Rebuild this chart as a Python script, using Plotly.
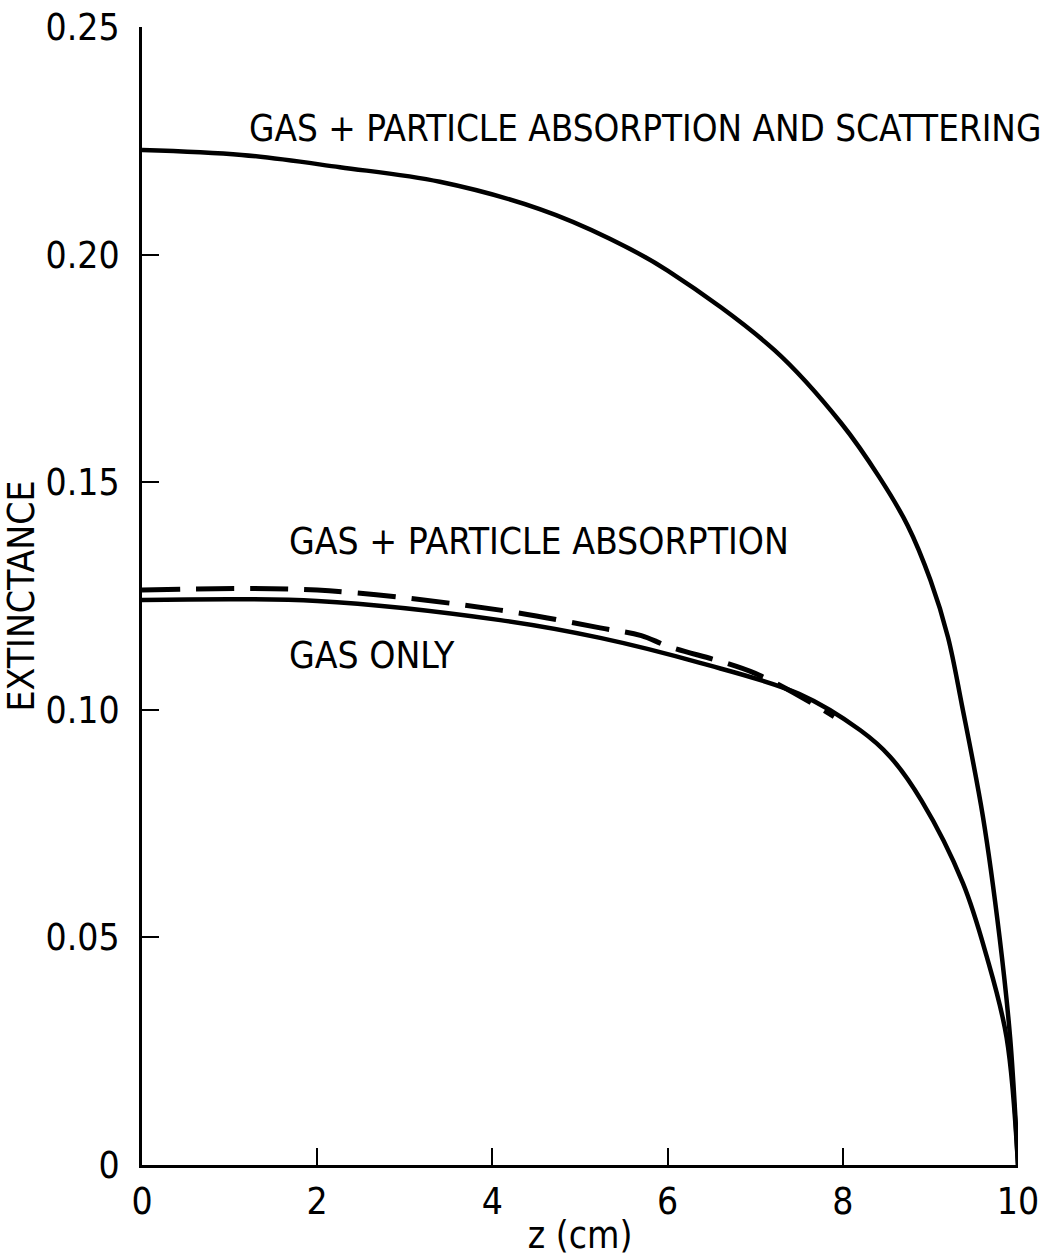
import plotly.graph_objects as go

# ---- data ----
z_scat = [0.0, 1.14, 2.26, 3.4, 4.54, 5.34, 6.0, 7.22, 7.98, 8.42, 8.74, 9.0, 9.2, 9.36, 9.6, 9.79, 9.91, 10.0]
ext_scat = [0.2230, 0.2219, 0.2192, 0.2160, 0.2100, 0.2035, 0.1965, 0.1790, 0.1630, 0.1510, 0.1405, 0.1285, 0.1160, 0.1010, 0.0765, 0.0500, 0.0280, 0.0]

z_gas = [0.0, 2.0, 4.09, 5.23, 6.37, 7.5, 8.2, 8.54, 8.9, 9.37, 9.64, 9.87, 10.0]
ext_gas = [0.1241, 0.1239, 0.1197, 0.1158, 0.1103, 0.1035, 0.0955, 0.0897, 0.0800, 0.0620, 0.0460, 0.0280, 0.0]

z_abs = [0.0, 2.0, 4.09, 5.23, 5.7, 6.0, 7.0, 7.9]
ext_abs = [0.1263, 0.1263, 0.1219, 0.1180, 0.1163, 0.1140, 0.1080, 0.0985]

x_ticks = [0, 2, 4, 6, 8, 10]
x_ticklabels = ["0", "2", "4", "6", "8", "10"]
y_ticks = [0, 0.05, 0.10, 0.15, 0.20, 0.25]
y_ticklabels = ["0", "0.05", "0.10", "0.15", "0.20", "0.25"]

labels = [
    ("GAS + PARTICLE ABSORPTION AND SCATTERING", 1.2, 0.2278, 36.5),
    ("GAS + PARTICLE ABSORPTION", 1.66, 0.1369, 37),
    ("GAS ONLY", 1.66, 0.1120, 37),
]

FONT = "Liberation Sans Narrow, DejaVu Sans Condensed, Arial Narrow, sans-serif"

fig = go.Figure()
fig.add_trace(go.Scatter(x=z_scat, y=ext_scat, mode="lines",
                         line=dict(color="black", width=4.5, shape="spline", smoothing=1.0),
                         showlegend=False))
fig.add_trace(go.Scatter(x=z_gas, y=ext_gas, mode="lines",
                         line=dict(color="black", width=4.5, shape="spline", smoothing=1.0),
                         showlegend=False))
fig.add_trace(go.Scatter(x=z_abs, y=ext_abs, mode="lines",
                         line=dict(color="black", width=5, shape="spline", smoothing=1.0,
                                   dash="38px,16px"),
                         showlegend=False))

for text, x, y, size in labels:
    fig.add_annotation(x=x, y=y, text=text, showarrow=False, xanchor="left", yanchor="middle",
                       font=dict(family=FONT, size=size, color="black"))

fig.update_layout(
    width=1052, height=1257,
    margin=dict(l=142, r=34, t=27, b=92),
    paper_bgcolor="white", plot_bgcolor="white",
    font=dict(family=FONT, size=37, color="black"),
)
fig.update_xaxes(range=[0, 10], tickvals=x_ticks, ticktext=x_ticklabels, automargin=False,
                 showgrid=False, zeroline=False, showline=True, linecolor="black", linewidth=3,
                 ticks="inside", ticklen=17, tickwidth=2, tickcolor="black",
                 ticklabelstandoff=2,
                 title=dict(text="z (cm)", standoff=12, font=dict(family=FONT, size=37)))
fig.update_yaxes(range=[0, 0.25], tickvals=y_ticks, ticktext=y_ticklabels, automargin=False,
                 showgrid=False, zeroline=False, showline=True, linecolor="black", linewidth=3,
                 ticks="inside", ticklen=17, tickwidth=2, tickcolor="black",
                 ticklabelstandoff=12,
                 title=dict(text="EXTINCTANCE", standoff=12, font=dict(family=FONT, size=37)))

fig.write_html("out.html")
